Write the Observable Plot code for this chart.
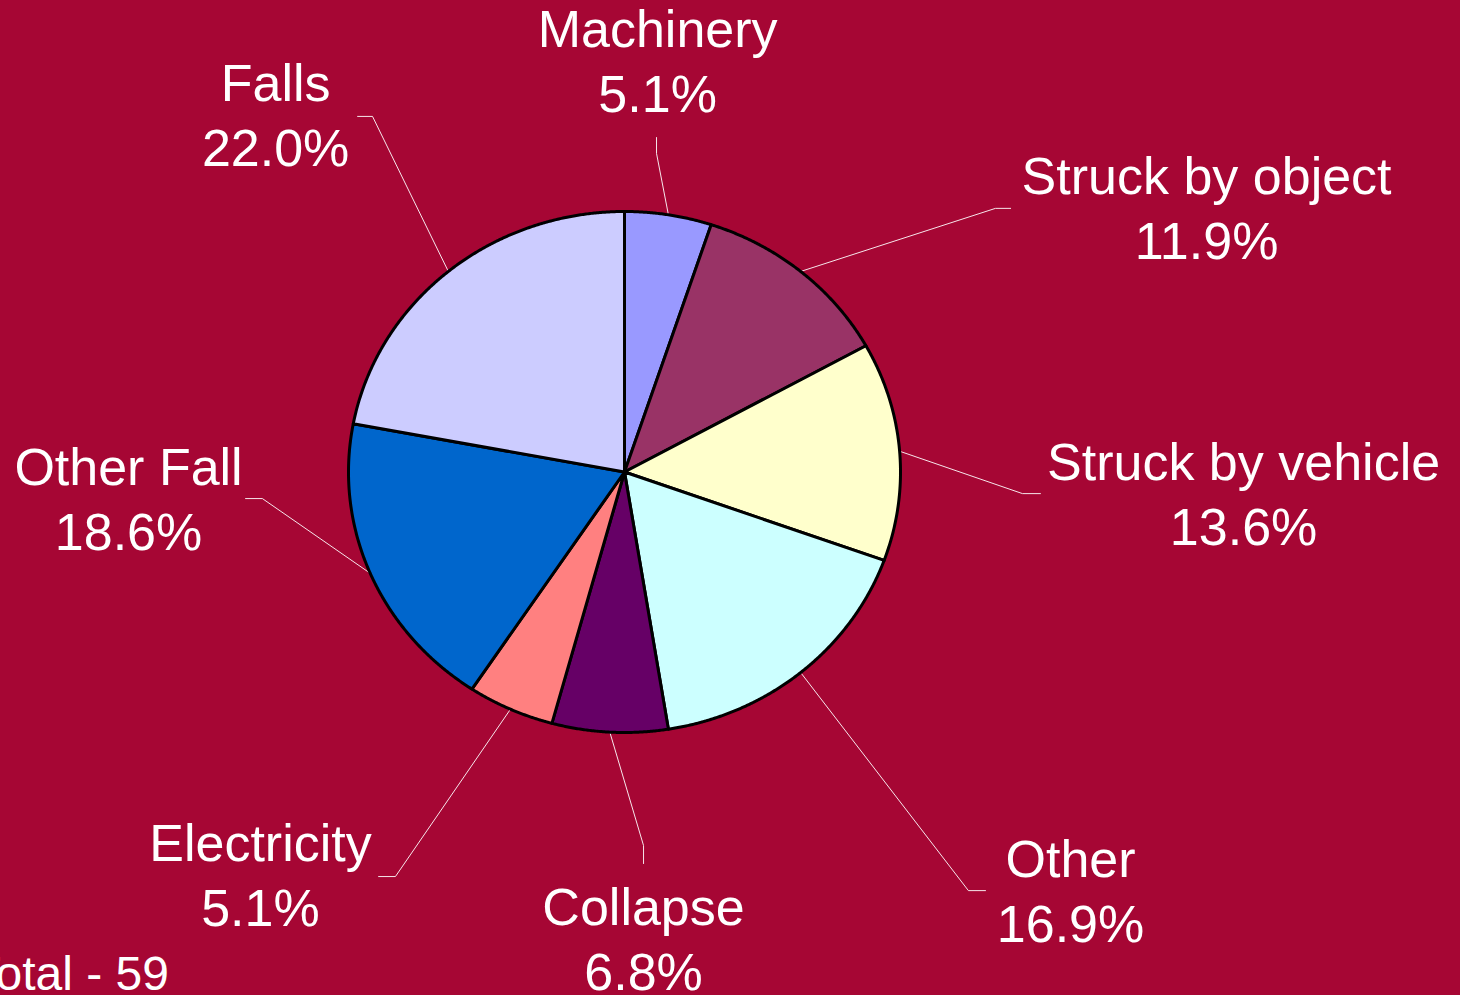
<!DOCTYPE html>
<html>
<head>
<meta charset="utf-8">
<script src="https://cdn.jsdelivr.net/npm/d3@7"></script>
<script src="https://cdn.jsdelivr.net/npm/@observablehq/plot@0.6"></script>
<style>
  html, body { margin: 0; padding: 0; background: #A60634; overflow: hidden; }
  #chart svg { display: block; }
</style>
</head>
<body>
<div id="chart"></div>
<script>
// ---- data ----
const categories = ["Machinery", "Struck by object", "Struck by vehicle", "Other", "Collapse", "Electricity", "Other Fall", "Falls"];
const counts = [3, 7, 8, 10, 4, 3, 11, 13];
const sliceColors = ["#9999FF", "#993366", "#FFFFCC", "#CCFFFF", "#660066", "#FF8080", "#0066CC", "#CCCCFF"];
const totalLabel = "Total - 59";

// ---- label layout (in pie-radius units) ----
const labelPos = [[0.12, 1.585], [2.109, 1.022], [2.243, -0.075], [1.616, -1.601], [0.069, -1.785], [-1.319, -1.539], [-1.797, -0.096], [-1.264, 1.378]];
const leaderElbow = [[0.116, 1.223], [1.344, 1.012], [1.442, -0.083], [1.246, -1.607], [0.069, -1.434], [-0.830, -1.553], [-1.312, -0.102], [-0.913, 1.365]];
const leaderEnd = [[0.116, 1.284], [1.399, 1.012], [1.507, -0.083], [1.308, -1.607], [0.069, -1.503], [-0.891, -1.553], [-1.373, -0.102], [-0.967, 1.365]];

const total = d3.sum(counts);
const arcs = d3.pie().sort(null).value(d => d)(counts);

// slice polygons
const slicePts = [];
arcs.forEach((a, i) => {
  const n = Math.max(2, Math.ceil((a.endAngle - a.startAngle) / 0.005));
  slicePts.push({cat: categories[i], x: 0, y: 0});
  for (let j = 0; j <= n; j++) {
    const t = a.startAngle + (a.endAngle - a.startAngle) * j / n;
    slicePts.push({cat: categories[i], x: Math.sin(t), y: Math.cos(t)});
  }
  slicePts.push({cat: categories[i], x: 0, y: 0});
});

// leader lines
const leaderPts = [];
arcs.forEach((a, i) => {
  const m = (a.startAngle + a.endAngle) / 2;
  leaderPts.push({cat: categories[i], x: Math.sin(m), y: Math.cos(m)});
  leaderPts.push({cat: categories[i], x: leaderElbow[i][0], y: leaderElbow[i][1]});
  leaderPts.push({cat: categories[i], x: leaderEnd[i][0], y: leaderEnd[i][1]});
});

const labels = categories.map((c, i) => ({
  text: c + "\n" + (counts[i] / total * 100).toFixed(1) + "%",
  x: labelPos[i][0], y: labelPos[i][1]
}));

const chart = Plot.plot({
  width: 1460,
  height: 995,
  margin: 0,
  style: {background: "#A60634", fontFamily: "'Liberation Sans', Arial, sans-serif"},
  x: {domain: [-1, 1], range: [348, 900], axis: null},
  y: {domain: [-1, 1], range: [732, 211], axis: null},
  color: {domain: categories, range: sliceColors},
  marks: [
    Plot.line(leaderPts, {x: "x", y: "y", z: "cat", stroke: "white", strokeOpacity: 0.9, strokeWidth: 1, curve: "linear"}),
    Plot.line(slicePts, {x: "x", y: "y", z: "cat", fill: "cat", stroke: "black", strokeWidth: 3, strokeLinejoin: "round", curve: "linear"}),
    Plot.text(labels, {x: "x", y: "y", text: "text", fill: "white", fontSize: 52, lineHeight: 1.25, lineAnchor: "middle", textAnchor: "middle"}),
    Plot.text([totalLabel], {frameAnchor: "bottom-left", text: d => d, fill: "white", fontSize: 48, textAnchor: "start", lineAnchor: "middle", dx: -29, dy: -21})
  ]
});
document.getElementById("chart").appendChild(chart);
</script>
</body>
</html>
